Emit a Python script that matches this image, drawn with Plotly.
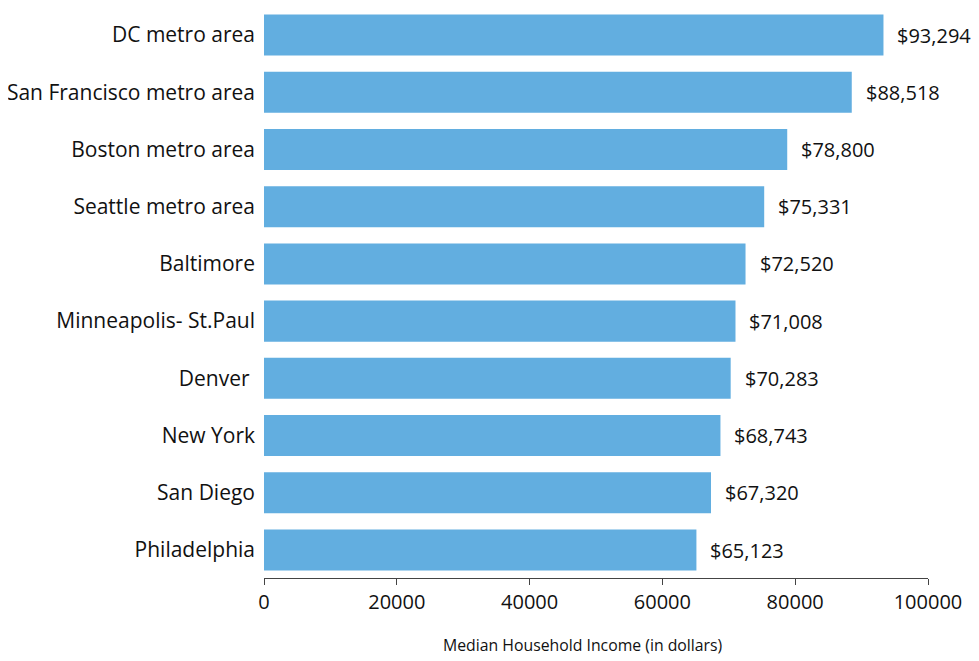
import plotly.graph_objects as go

cities = ["DC metro area", "San Francisco metro area", "Boston metro area",
          "Seattle metro area", "Baltimore", "Minneapolis- St.Paul", "Denver ",
          "New York", "San Diego", "Philadelphia"]
income = [93294, 88518, 78800, 75331, 72520, 71008, 70283, 68743, 67320, 65123]
labels = ["$93,294", "$88,518", "$78,800", "$75,331", "$72,520", "$71,008",
          "$70,283", "$68,743", "$67,320", "$65,123"]
tick_vals = [0, 20000, 40000, 60000, 80000, 100000]
axis_title = "Median Household Income (in dollars)"

FONT = "Open Sans, Liberation Sans, sans-serif"

fig = go.Figure(go.Bar(
    x=income, y=cities, orientation="h",
    marker=dict(color="#62aee0", line=dict(width=0)),
    width=0.717,
    hoverinfo="skip",
))

for c, v, t in zip(cities, income, labels):
    fig.add_annotation(x=v, y=c, text=t, showarrow=False, xanchor="left",
                       xshift=12, font=dict(size=20, color="#111", family=FONT))

fig.add_annotation(x=0.48, xref="paper", y=0, yref="paper", yshift=-67,
                   text=axis_title, showarrow=False, xanchor="center",
                   yanchor="middle", font=dict(size=15.8, color="#111", family=FONT))

fig.update_layout(
    width=979, height=661,
    margin=dict(l=256, r=59, t=0, b=91, autoexpand=False),
    plot_bgcolor="white", paper_bgcolor="white",
    showlegend=False,
    font=dict(family=FONT, color="#111"),
    xaxis=dict(range=[0, 100000], tickvals=tick_vals,
               ticktext=[str(v) for v in tick_vals],
               showgrid=False, zeroline=False, showline=True,
               linecolor="#444", linewidth=1, ticks="outside", ticklen=6,
               tickcolor="#444", tickfont=dict(size=20), automargin=False),
    yaxis=dict(range=[9.489, -0.472], showgrid=False, showline=False,
               ticks="", tickfont=dict(size=21), automargin=False,
               ticklabelstandoff=8),
)

fig.write_html("out.html")
